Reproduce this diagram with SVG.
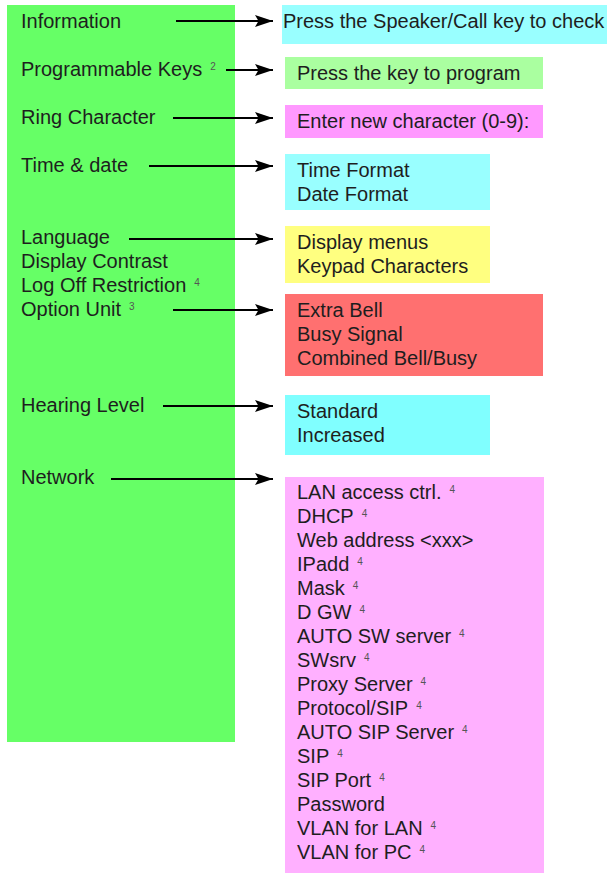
<svg xmlns="http://www.w3.org/2000/svg" width="614" height="874" viewBox="0 0 614 874">
  <style>
    text { font-family: "Liberation Sans", Arial, sans-serif; font-size: 20px; fill: #1e1e1e; }
    .sup { font-size: 10px; fill: #555555; }
    .conn { stroke: #000000; stroke-width: 2; fill: none; }
  </style>
  <defs>
    <marker id="head" markerUnits="userSpaceOnUse" markerWidth="20" markerHeight="14" refX="18" refY="6.5" orient="auto">
      <path d="M0,0.5 L18,6.5 L0,12.5 L3.5,6.5 z" fill="#000000"/>
    </marker>
  </defs>

  <!-- main menu column -->
  <g id="menu">
    <rect x="7" y="5" width="228" height="737" fill="#66FF66"/>
    <text x="21" y="28">Information</text>
    <text x="21" y="76">Programmable Keys<tspan class="sup" dx="8" dy="-6">2</tspan></text>
    <text x="21" y="124">Ring Character</text>
    <text x="21" y="172">Time &amp; date</text>
    <text x="21" y="244">Language</text>
    <text x="21" y="268">Display Contrast</text>
    <text x="21" y="292">Log Off Restriction<tspan class="sup" dx="8" dy="-6">4</tspan></text>
    <text x="21" y="316">Option Unit<tspan class="sup" dx="8" dy="-6">3</tspan></text>
    <text x="21" y="412">Hearing Level</text>
    <text x="21" y="484">Network</text>
  </g>

  <g id="information">
    <rect x="282" y="5" width="325" height="39" fill="#99FFFF"/>
    <text x="283" y="28">Press the Speaker/Call key to check</text>
  </g>

  <g id="programmable-keys">
    <rect x="285" y="57" width="258" height="32" fill="#AAFFA0"/>
    <text x="297" y="80">Press the key to program</text>
  </g>

  <g id="ring-character">
    <rect x="285" y="105" width="258" height="33" fill="#FF99FF"/>
    <text x="297" y="128">Enter new character (0-9):</text>
  </g>

  <g id="time-date">
    <rect x="285" y="154" width="205" height="56" fill="#99FFFF"/>
    <text x="297" y="177">Time Format</text>
    <text x="297" y="201">Date Format</text>
  </g>

  <g id="language">
    <rect x="285" y="226" width="205" height="57" fill="#FFFF80"/>
    <text x="297" y="249">Display menus</text>
    <text x="297" y="273">Keypad Characters</text>
  </g>

  <g id="option-unit">
    <rect x="285" y="294" width="258" height="82" fill="#FF7070"/>
    <text x="297" y="317">Extra Bell</text>
    <text x="297" y="341">Busy Signal</text>
    <text x="297" y="365">Combined Bell/Busy</text>
  </g>

  <g id="hearing-level">
    <rect x="285" y="395" width="205" height="60" fill="#80FFFF"/>
    <text x="297" y="418">Standard</text>
    <text x="297" y="442">Increased</text>
  </g>

  <g id="network">
    <rect x="285" y="477" width="259" height="396" fill="#FFB0FF"/>
    <text x="297" y="499">LAN access ctrl.<tspan class="sup" dx="8" dy="-6">4</tspan></text>
    <text x="297" y="523">DHCP<tspan class="sup" dx="8" dy="-6">4</tspan></text>
    <text x="297" y="547">Web address &lt;xxx&gt;</text>
    <text x="297" y="571">IPadd<tspan class="sup" dx="8" dy="-6">4</tspan></text>
    <text x="297" y="595">Mask<tspan class="sup" dx="8" dy="-6">4</tspan></text>
    <text x="297" y="619">D GW<tspan class="sup" dx="8" dy="-6">4</tspan></text>
    <text x="297" y="643">AUTO SW server<tspan class="sup" dx="8" dy="-6">4</tspan></text>
    <text x="297" y="667">SWsrv<tspan class="sup" dx="8" dy="-6">4</tspan></text>
    <text x="297" y="691">Proxy Server<tspan class="sup" dx="8" dy="-6">4</tspan></text>
    <text x="297" y="715">Protocol/SIP<tspan class="sup" dx="8" dy="-6">4</tspan></text>
    <text x="297" y="739">AUTO SIP Server<tspan class="sup" dx="8" dy="-6">4</tspan></text>
    <text x="297" y="763">SIP<tspan class="sup" dx="8" dy="-6">4</tspan></text>
    <text x="297" y="787">SIP Port<tspan class="sup" dx="8" dy="-6">4</tspan></text>
    <text x="297" y="811">Password</text>
    <text x="297" y="835">VLAN for LAN<tspan class="sup" dx="8" dy="-6">4</tspan></text>
    <text x="297" y="859">VLAN for PC<tspan class="sup" dx="8" dy="-6">4</tspan></text>
  </g>

  <!-- connectors from menu entries to their option boxes -->
  <g id="connectors" class="conn">
    <line class="conn" x1="176" y1="21" x2="273" y2="21" marker-end="url(#head)"/>
    <line class="conn" x1="226" y1="70" x2="273" y2="70" marker-end="url(#head)"/>
    <line class="conn" x1="173" y1="118" x2="273" y2="118" marker-end="url(#head)"/>
    <line class="conn" x1="149" y1="166" x2="273" y2="166" marker-end="url(#head)"/>
    <line class="conn" x1="129" y1="239" x2="273" y2="239" marker-end="url(#head)"/>
    <line class="conn" x1="173" y1="310" x2="273" y2="310" marker-end="url(#head)"/>
    <line class="conn" x1="163" y1="406" x2="273" y2="406" marker-end="url(#head)"/>
    <line class="conn" x1="111" y1="479" x2="273" y2="479" marker-end="url(#head)"/>
  </g>
</svg>
